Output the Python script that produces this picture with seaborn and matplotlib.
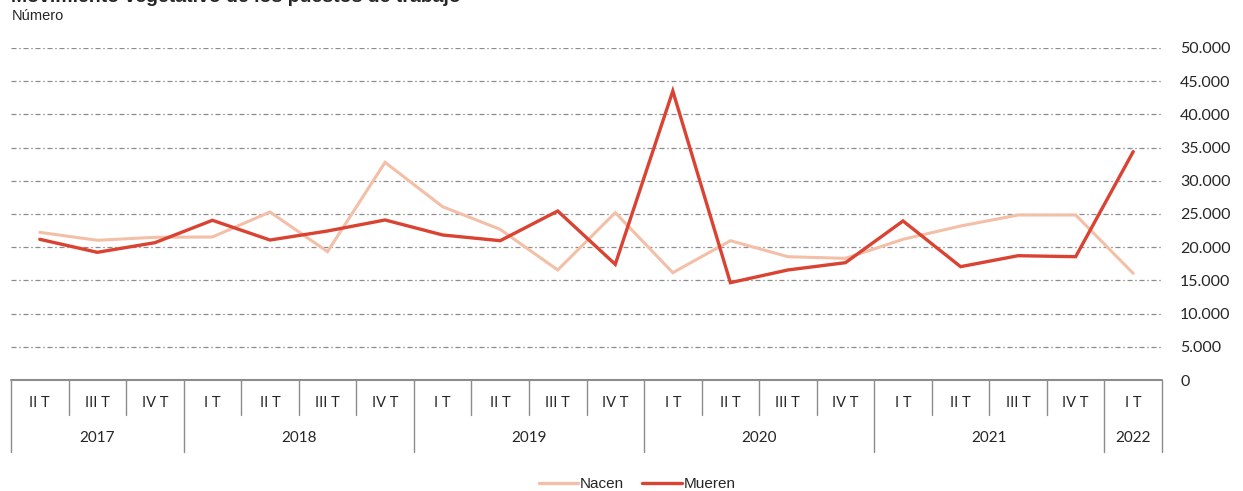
import matplotlib
matplotlib.use("Agg")
import matplotlib.pyplot as plt
import matplotlib.transforms as mtransforms
import pandas as pd
import seaborn as sns

# --- data ---
quarters = ["II T", "III T", "IV T",
            "I T", "II T", "III T", "IV T",
            "I T", "II T", "III T", "IV T",
            "I T", "II T", "III T", "IV T",
            "I T", "II T", "III T", "IV T",
            "I T"]
years = ["2017", "2018", "2019", "2020", "2021", "2022"]
year_sizes = [3, 4, 4, 4, 4, 1]

nacen = [22240, 21040, 21490, 21540, 25300, 19330, 32780,
         26100, 22690, 16570, 25200,
         16160, 20980, 18570, 18320,
         21190, 23190, 24850, 24850,
         16060]
mueren = [21190, 19230, 20680, 24050, 21080, 22440, 24100,
          21840, 20980, 25450, 17420,
          43520, 14660, 16570, 17670,
          23950, 17070, 18720, 18570,
          34390]

series_names = ["Nacen", "Mueren"]
colors = {"Nacen": "#F3BFA7", "Mueren": "#DA4232"}
yticks = [0, 5000, 10000, 15000, 20000, 25000, 30000, 35000, 40000, 45000, 50000]

idx = list(range(len(quarters)))
df = pd.DataFrame({
    "pos": idx * 2,
    "valor": nacen + mueren,
    "serie": ["Nacen"] * len(idx) + ["Mueren"] * len(idx),
})

sns.set_style("white")
plt.rcParams["font.family"] = ["Liberation Sans", "DejaVu Sans"]

fig = plt.figure(figsize=(12.43, 4.91), dpi=100)
ax = fig.add_axes([11 / 1243, 1 - 380 / 491, (1162 - 11) / 1243, (380 - 48) / 491])

sns.lineplot(data=df, x="pos", y="valor", hue="serie", hue_order=series_names,
             palette=colors, linewidth=2.4, ax=ax, sort=False)
for line in ax.get_lines():
    line.set_solid_joinstyle("miter")
ax.get_lines()[0].set_linewidth(2.2)

ax.set_xlim(-0.5, len(quarters) - 0.5)
ax.set_ylim(0, 50000)
ax.set_xlabel("")
ax.set_ylabel("")
ax.set_xticks([])

# y axis on the right, dotted thousands
ax.yaxis.tick_right()
ax.set_yticks(yticks)
ax.set_yticklabels([f"{v:,}".replace(",", ".") for v in yticks],
                   fontsize=11.5, family=["Lato", "DejaVu Sans"])
ax.tick_params(axis="y", length=0, pad=13)
for lbl in ax.get_yticklabels():
    lbl.set_horizontalalignment("left")

for s in ax.spines.values():
    s.set_visible(False)

grid_style = (0, (4, 2.2, 1.2, 2.2))
for v in yticks[1:]:
    ax.axhline(v, color="#8C8C8C", linewidth=0.9, linestyle=grid_style, zorder=0)

# category axis: quarter row + year row
gray = "#8C8C8C"
trans = mtransforms.blended_transform_factory(ax.transData, fig.transFigure)
y_axis = 1 - 380 / 491
y_q = 1 - 415 / 491
y_yr = 1 - 452 / 491
ax.plot([-0.5, len(quarters) - 0.5], [y_axis, y_axis], transform=trans,
        color=gray, linewidth=1.5, clip_on=False)

year_edges = [-0.5]
for n in year_sizes:
    year_edges.append(year_edges[-1] + n)

for i in range(len(quarters) + 1):
    b = i - 0.5
    bottom = y_yr if b in year_edges else y_q
    ax.plot([b, b], [y_axis, bottom], transform=trans, color=gray,
            linewidth=1.0, clip_on=False)

for i, q in enumerate(quarters):
    ax.text(i, 1 - 403 / 491, q, transform=trans, ha="center", va="center",
            fontsize=10.5, family=["Lato", "DejaVu Sans"])

for k, yr in enumerate(years):
    mid = (year_edges[k] + year_edges[k + 1]) / 2
    ax.text(mid, 1 - 438 / 491, yr, transform=trans, ha="center", va="center",
            fontsize=11, family=["Lato", "DejaVu Sans"])

# legend at the bottom
handles, labels = ax.get_legend_handles_labels()
ax.get_legend().remove()
fig.legend(handles, labels, loc="center", bbox_to_anchor=(637 / 1243, 1 - 484 / 491),
           ncol=2, frameon=False, fontsize=11, handlelength=2.6,
           handletextpad=0.1, columnspacing=1.2)

# titles
fig.text(11 / 1243, 1 + 2 / 491, "Movimiento vegetativo de los puestos de trabajo",
         fontsize=14, fontweight="bold", ha="left", va="center")
fig.text(12 / 1243, 1 - 16 / 491, "Número", fontsize=10.5, ha="left", va="center")

fig.savefig("out.png", dpi=100)
